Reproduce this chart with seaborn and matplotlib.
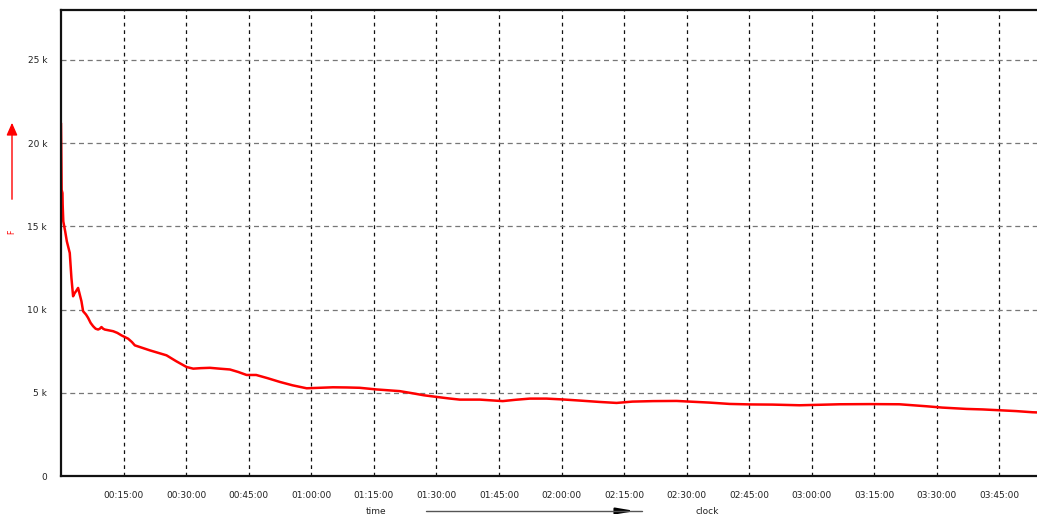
import matplotlib
matplotlib.use("Agg")
import matplotlib.pyplot as plt
import seaborn as sns
import pandas as pd
from matplotlib.ticker import FuncFormatter, MultipleLocator

# elapsed time in minutes
time_min = [0.0, 0.05, 0.15, 0.35, 0.4, 0.55, 1.0, 1.4, 2.1, 2.5, 2.9, 3.3, 3.6, 4.1,
            4.5, 4.9, 5.3, 6.0, 6.5, 7.1, 7.7, 8.3, 8.9, 9.3, 9.7, 10.1, 10.5, 11.5,
            12.5, 13.5, 14.5, 15.3, 16.1, 17.0, 17.7, 19.5, 21.3, 23.3, 25.3, 27.6,
            30.1, 31.7, 33.5, 35.7, 38.0, 40.5, 42.5, 44.5, 46.8, 49.5, 52.5, 55.5,
            58.9, 62.0, 65.2, 68.5, 71.6, 75.7, 81.2, 84.3, 87.0, 90.1, 93.0, 95.6,
            100.4, 105.9, 109.0, 112.4, 116.4, 120.3, 124.5, 129.1, 133.2, 137.0,
            142.0, 147.6, 151.5, 155.5, 160.3, 165.5, 170.6, 177.1, 182.0, 186.7,
            194.0, 201.0, 207.5, 211.3, 217.1, 221.0, 225.0, 229.0, 232.9, 234.0]
# force values
force = [21200, 20000, 17200, 17000, 16300, 15300, 14700, 14100, 13400, 11900, 10800,
         11000, 11100, 11300, 10900, 10500, 9900, 9700, 9500, 9200, 9000, 8850, 8800,
         8850, 8950, 8850, 8800, 8750, 8700, 8600, 8450, 8350, 8250, 8050, 7850,
         7700, 7550, 7400, 7250, 6900, 6550, 6450, 6480, 6500, 6450, 6400, 6250,
         6070, 6070, 5880, 5650, 5450, 5270, 5300, 5330, 5320, 5300, 5200, 5100,
         4970, 4850, 4750, 4660, 4590, 4590, 4500, 4580, 4650, 4650, 4600, 4530,
         4450, 4390, 4470, 4500, 4510, 4460, 4410, 4330, 4300, 4290, 4250, 4280,
         4310, 4320, 4310, 4190, 4110, 4030, 4000, 3950, 3900, 3830, 3820]

y_ticks = [0, 5000, 10000, 15000, 20000, 25000]
y_tick_labels = ["0", "5 k", "10 k", "15 k", "20 k", "25 k"]

df = pd.DataFrame({"t": time_min, "F": force})

sns.set_theme(style="white")
plt.rcParams["font.family"] = ["DejaVu Sans"]

W, H = 1037, 514
fig = plt.figure(figsize=(W / 100, H / 100), dpi=100)
ax = fig.add_axes([61 / W, 1 - 476 / H, (1037 - 61) / W, (476 - 10) / H])

sns.lineplot(data=df, x="t", y="F", ax=ax, color="#ff0000", linewidth=1.8)

ax.set_xlim(0, 234)
ax.set_ylim(0, 28000)
ax.xaxis.set_major_locator(MultipleLocator(15))
ax.xaxis.set_major_formatter(FuncFormatter(
    lambda v, p: "" if v <= 0 else f"{int(v // 60):02d}:{int(v % 60):02d}:00"))
ax.set_yticks(y_ticks)
ax.set_yticklabels(y_tick_labels)

ax.tick_params(axis="both", length=0, labelsize=6.5, colors="#222222")
ax.tick_params(axis="x", pad=11)
ax.tick_params(axis="y", pad=10)

ax.grid(False)
for v in range(15, 234, 15):
    ax.axvline(v, color="#111111", linestyle=(0, (3, 3)), linewidth=0.9, zorder=0)
for v in y_ticks[1:]:
    ax.axhline(v, color="#777777", linestyle=(0, (4, 3)), linewidth=0.9, zorder=0)

for s in ["left", "top", "bottom"]:
    ax.spines[s].set_color("#111111")
    ax.spines[s].set_linewidth(1.6)
ax.spines["right"].set_visible(False)

ax.set_xlabel("")
ax.set_ylabel("")

# y-axis label: red arrow with "F"
fig.patches.append(matplotlib.patches.FancyArrowPatch(
    (12 / W, 1 - 202 / H), (12 / W, 1 - 120 / H), transform=fig.transFigure,
    arrowstyle="-|>,head_length=5,head_width=2.2", color="#ff0000", linewidth=1.0,
    mutation_scale=1.5))
fig.text(12 / W, 1 - 232 / H, "F", color="#ff0000", fontsize=5.5, rotation=90,
         ha="center", va="center")

# x-axis label: time ---> clock
fig.text(376 / W, 1 - 511 / H, "time", fontsize=6.5, color="#222222",
         ha="center", va="center")
fig.text(707 / W, 1 - 511 / H, "clock", fontsize=6.5, color="#222222",
         ha="center", va="center")
fig.lines.append(matplotlib.lines.Line2D([426 / W, 642 / W], [1 - 511 / H, 1 - 511 / H],
                                         transform=fig.transFigure, color="#555555",
                                         linewidth=1.0))
fig.patches.append(matplotlib.patches.FancyArrowPatch(
    (617 / W, 1 - 511 / H), (638 / W, 1 - 511 / H), transform=fig.transFigure,
    arrowstyle="-|>,head_length=7,head_width=1.2", color="#000000", linewidth=1.5,
    mutation_scale=1.5))

fig.savefig("out.png", dpi=100, facecolor="white")
